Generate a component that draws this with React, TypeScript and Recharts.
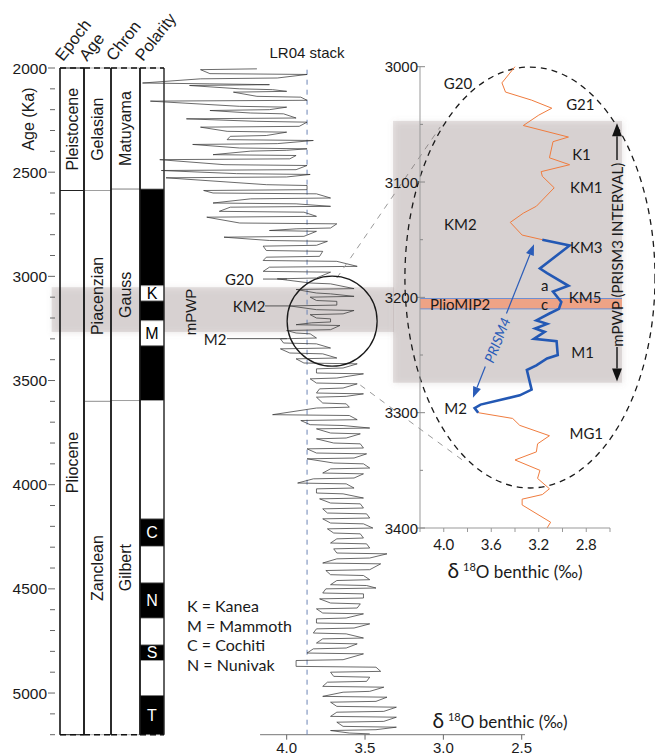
import React from 'react';
import {
  ComposedChart,
  Line,
  XAxis,
  YAxis,
  ReferenceArea,
  ReferenceLine,
  ReferenceDot,
} from 'recharts';

const ARIAL = '"Liberation Sans", Arial, Helvetica, sans-serif';
const MYRIAD = 'Lato, "Open Sans", sans-serif';

const W = 655;
const H = 756;

// ---------- stratigraphy (ka) ----------
const AGE_DOMAIN: [number, number] = [2000, 5200];
const AGE_LABELS = [2000, 2500, 3000, 3500, 4000, 4500, 5000];
const AGE_TICKS = Array.from({ length: 33 }, (_, i) => 2000 + i * 100);

const EPOCHS = [
  { name: 'Pleistocene', from: 2000, to: 2588 },
  { name: 'Pliocene', from: 2588, to: 5333 },
];
const STAGES = [
  { name: 'Gelasian', from: 2000, to: 2588 },
  { name: 'Piacenzian', from: 2588, to: 3600 },
  { name: 'Zanclean', from: 3600, to: 5333 },
];
const CHRONS = [
  { name: 'Matuyama', from: 2000, to: 2581 },
  { name: 'Gauss', from: 2581, to: 3596 },
  { name: 'Gilbert', from: 3596, to: 5333 },
];
const POLARITY = [
  { from: 2000, to: 2581, normal: false, label: '' },
  { from: 2581, to: 3045, normal: true, label: '' },
  { from: 3045, to: 3118, normal: false, label: 'K' },
  { from: 3118, to: 3213, normal: true, label: '' },
  { from: 3213, to: 3333, normal: false, label: 'M' },
  { from: 3333, to: 3596, normal: true, label: '' },
  { from: 3596, to: 4164, normal: false, label: '' },
  { from: 4164, to: 4296, normal: true, label: 'C' },
  { from: 4296, to: 4471, normal: false, label: '' },
  { from: 4471, to: 4641, normal: true, label: 'N' },
  { from: 4641, to: 4769, normal: false, label: '' },
  { from: 4769, to: 4844, normal: true, label: 'S' },
  { from: 4844, to: 5012, normal: false, label: '' },
  { from: 5012, to: 5333, normal: true, label: 'T' },
];
const SUBCHRON_KEY = ['K = Kanea', 'M = Mammoth', 'C = Cochiti', 'N = Nunivak'];

// ---------- LR04 stack, [age ka, d18O permil] ----------
const LR04_STACK: [number, number][] = [
  [2004, 4.19], [2008, 4.55], [2027, 4.49], [2031, 3.87], [2048, 4.06], [2052, 4.55],
  [2072, 4.92], [2076, 4.49], [2080, 4.11], [2084, 4.62], [2100, 4.3], [2104, 4.09],
  [2112, 4.0], [2116, 4.34], [2136, 4.19], [2140, 3.91], [2155, 3.87], [2159, 4.87],
  [2184, 4.3], [2188, 4.0], [2200, 4.11], [2204, 4.49], [2216, 4.23], [2220, 4.02],
  [2240, 3.94], [2244, 4.64], [2256, 4.19], [2260, 3.87], [2280, 3.92], [2284, 4.55],
  [2304, 4.38], [2308, 4.0], [2324, 4.13], [2328, 4.36], [2344, 4.38], [2348, 3.83],
  [2363, 4.06], [2367, 4.6], [2384, 4.3], [2388, 3.87], [2395, 4.0], [2399, 4.23],
  [2416, 4.47], [2420, 3.94], [2436, 3.98], [2440, 4.81], [2464, 4.4], [2468, 3.87],
  [2488, 3.94], [2492, 4.8], [2507, 4.32], [2511, 3.85], [2523, 4.0], [2527, 4.77],
  [2560, 4.13], [2564, 3.87], [2584, 3.87], [2588, 4.53], [2600, 4.47], [2604, 3.81],
  [2624, 3.72], [2628, 4.23], [2648, 4.47], [2652, 3.94], [2664, 3.72], [2668, 4.36],
  [2688, 4.43], [2692, 3.89], [2712, 3.81], [2716, 4.51], [2744, 4.3], [2748, 3.68],
  [2768, 3.72], [2772, 3.94], [2780, 4.11], [2784, 3.81], [2808, 3.89], [2812, 4.4],
  [2828, 4.11], [2832, 3.74], [2851, 3.81], [2855, 4.15], [2876, 4.13], [2880, 3.77],
  [2904, 3.79], [2908, 4.13], [2924, 4.15], [2928, 3.68], [2952, 3.55], [2956, 4.11],
  [2976, 4.15], [2980, 3.72], [3008, 3.81], [3012, 4.06], [3032, 3.85], [3036, 3.72],
  [3059, 3.57], [3063, 3.94], [3080, 3.81], [3084, 3.72], [3096, 3.57], [3100, 3.85],
  [3116, 3.81], [3120, 3.68], [3138, 3.68], [3142, 3.98], [3160, 3.81], [3164, 3.57],
  [3180, 3.64], [3184, 3.85], [3200, 3.81], [3204, 3.72], [3219, 3.72], [3223, 3.84],
  [3232, 3.94], [3236, 3.66], [3256, 3.72], [3260, 4.0], [3272, 3.94], [3276, 3.85],
  [3296, 3.81], [3300, 4.04], [3320, 4.02], [3324, 3.81], [3344, 3.72], [3348, 4.04],
  [3368, 3.98], [3372, 3.77], [3392, 3.68], [3396, 3.94], [3416, 3.89], [3420, 3.55],
  [3440, 3.64], [3444, 3.81], [3464, 3.81], [3468, 3.51], [3488, 3.68], [3492, 3.85],
  [3512, 3.81], [3516, 3.55], [3536, 3.64], [3540, 3.79], [3560, 3.81], [3564, 3.51],
  [3576, 3.62], [3580, 3.81], [3608, 3.77], [3612, 3.62], [3628, 3.6], [3632, 3.81],
  [3664, 4.09], [3668, 3.6], [3688, 3.55], [3692, 3.91], [3712, 3.85], [3716, 3.64],
  [3728, 3.47], [3732, 3.81], [3752, 3.72], [3756, 3.53], [3776, 3.62], [3780, 3.81],
  [3800, 3.7], [3804, 3.53], [3824, 3.51], [3828, 3.87], [3848, 3.81], [3852, 3.49],
  [3872, 3.57], [3876, 3.87], [3896, 3.7], [3900, 3.51], [3920, 3.47], [3924, 3.72],
  [3944, 3.77], [3948, 3.51], [3968, 3.57], [3972, 3.83], [3992, 3.93], [3996, 3.62],
  [4016, 3.57], [4020, 3.81], [4040, 3.81], [4044, 3.64], [4064, 3.51], [4068, 3.79],
  [4088, 3.72], [4092, 3.53], [4112, 3.51], [4116, 3.77], [4136, 3.74], [4140, 3.49],
  [4160, 3.47], [4164, 3.77], [4184, 3.72], [4188, 3.51], [4208, 3.45], [4212, 3.74],
  [4232, 3.7], [4236, 3.53], [4256, 3.51], [4260, 3.68], [4280, 3.72], [4284, 3.49],
  [4304, 3.47], [4308, 3.7], [4328, 3.68], [4332, 3.36], [4352, 3.47], [4356, 3.68],
  [4376, 3.77], [4380, 3.4], [4408, 3.47], [4412, 3.75], [4432, 3.72], [4436, 3.51],
  [4456, 3.47], [4460, 3.68], [4480, 3.72], [4484, 3.49], [4496, 3.43], [4500, 3.75],
  [4520, 3.77], [4524, 3.51], [4544, 3.51], [4548, 3.79], [4568, 3.72], [4572, 3.53],
  [4592, 3.55], [4596, 3.81], [4616, 3.77], [4620, 3.51], [4640, 3.62], [4644, 3.81],
  [4664, 3.81], [4668, 3.47], [4688, 3.57], [4692, 3.81], [4712, 3.83], [4716, 3.62],
  [4736, 3.51], [4740, 3.77], [4760, 3.81], [4764, 3.55], [4784, 3.62], [4788, 3.83],
  [4808, 3.87], [4812, 3.51], [4840, 3.64], [4844, 3.94], [4872, 3.94], [4876, 3.43],
  [4896, 3.4], [4900, 3.72], [4920, 3.7], [4924, 3.47], [4944, 3.49], [4948, 3.74],
  [4968, 3.77], [4972, 3.38], [4992, 3.47], [4996, 3.64], [5016, 3.77], [5020, 3.36],
  [5040, 3.43], [5044, 3.72], [5064, 3.68], [5068, 3.3], [5088, 3.38], [5092, 3.68],
  [5112, 3.72], [5116, 3.3], [5136, 3.38], [5140, 3.68], [5160, 3.64], [5164, 3.3],
  [5176, 3.43], [5180, 3.72], [5192, 3.6], [5196, 3.47],
];
const LR04_REF = 3.87;
const LR04_EVENTS: [string, number][] = [['G20', 3013], ['KM2', 3142], ['M2', 3299]];
const MPWP_MAIN: [number, number] = [3052, 3267];

// ---------- inset: zoom on 3000-3400 ka ----------
const INSET_D18O: [number, number][] = [
  [3000, 3.4], [3014, 3.51], [3022, 3.48], [3029, 3.26], [3036, 3.09], [3042, 3.2],
  [3051, 3.33], [3061, 2.95], [3065, 3.08], [3079, 3.11], [3085, 2.94], [3091, 3.18],
  [3095, 3.17], [3105, 3.07], [3121, 3.22], [3127, 3.33], [3135, 3.44], [3146, 3.34],
  [3150, 3.17], [3155, 2.94], [3175, 3.19], [3179, 3.13], [3190, 2.95], [3195, 3.08],
  [3204, 3.01], [3210, 3.03], [3214, 3.11], [3220, 3.22], [3223, 3.13], [3227, 3.23],
  [3230, 3.15], [3236, 3.24], [3238, 3.05], [3250, 3.04], [3253, 3.13], [3259, 3.22],
  [3263, 3.3], [3280, 3.26], [3285, 3.36], [3293, 3.69], [3296, 3.74], [3300, 3.71],
  [3305, 3.42], [3311, 3.36], [3320, 3.11], [3327, 3.21], [3334, 3.22], [3341, 3.4],
  [3350, 3.19], [3357, 3.21], [3366, 3.11], [3371, 3.17], [3375, 3.34], [3380, 3.34],
  [3395, 3.1], [3400, 3.13],
];
const PRISM4_RANGE: [number, number] = [3150, 3300];
const PRISM3_RANGE: [number, number] = [3047, 3274];
const PLIOMIP2_RANGE: [number, number] = [3201, 3210];
const INSET_EVENTS: [string, number][] = [
  ['G20', 3014], ['G21', 3032], ['K1', 3076], ['KM1', 3104], ['KM2', 3136], ['KM3', 3156],
  ['a', 3189], ['KM5', 3200], ['c', 3206], ['M1', 3247], ['M2', 3296], ['MG1', 3318],
];

// ---------- layout (not data) ----------
const COLS = { epoch: [0, 24], stage: [24, 51], chron: [51, 80], polarity: [80, 104] };
const MAIN_X: [number, number] = [2.479, 5.0];
const INSET_X: [number, number] = [2.6, 4.2];
const INSET_AGE: [number, number] = [3000, 3400];
const LR04_LABEL_X: Record<string, number> = { G20: 4.303, KM2: 4.24, M2: 4.457 };
const LR04_LEADER: Record<string, [number, number]> = { G20: [4.151, 3.998], KM2: [4.138, 3.979], M2: [4.381, 3.998] };
const INSET_LABEL_X: Record<string, number> = {
  G20: 3.88, G21: 2.85, K1: 2.84, KM1: 2.8, KM2: 3.86, KM3: 2.8,
  a: 3.15, KM5: 2.81, c: 3.15, M1: 2.83, M2: 3.9, MG1: 2.8,
};
const BAND_FILL = '#857070';
const BAND_OPACITY = 0.22;

// ---------- helpers ----------
const textShape = (o: {
  text: React.ReactNode; size?: number; family?: string; anchor?: 'start' | 'middle' | 'end';
  rotate?: number; fill?: string; italic?: boolean;
}) => (p: any) => (
  <text
    x={p.cx}
    y={p.cy}
    textAnchor={o.anchor ?? 'middle'}
    dominantBaseline="central"
    fontSize={o.size ?? 15}
    fontFamily={o.family ?? MYRIAD}
    fill={o.fill ?? '#1a1a1a'}
    fontStyle={o.italic ? 'italic' : undefined}
    transform={o.rotate ? `rotate(${o.rotate} ${p.cx} ${p.cy})` : undefined}
  >
    {o.text}
  </text>
);

// translucent box with a soft blurred rim
const softBox = (id: string) => (p: any) => {
  const x = Math.min(p.x, p.x + p.width);
  const y = Math.min(p.y, p.y + p.height);
  const w = Math.abs(p.width);
  const h = Math.abs(p.height);
  return (
    <g>
      <defs>
        <filter id={id} x="-10%" y="-30%" width="120%" height="160%">
          <feGaussianBlur stdDeviation="3" />
        </filter>
      </defs>
      <rect x={x + 1} y={y + 1} width={w} height={h} fill={BAND_FILL} fillOpacity={0.16} filter={`url(#${id})`} />
      <rect x={x} y={y} width={w} height={h} fill={BAND_FILL} fillOpacity={BAND_OPACITY - 0.03} />
    </g>
  );
};

const DeltaLabel = ({ x, y, anchor = 'start' }: { x: number; y: number; anchor?: string }) => (
  <text x={x} y={y} textAnchor={anchor} fontFamily={MYRIAD} fontSize={17} fill="#1a1a1a">
    <tspan fontSize={21}>δ</tspan>
    <tspan dx={4} dy={-7} fontSize={11}>18</tspan>
    <tspan dy={7}>O benthic (‰)</tspan>
  </text>
);

const arrowShape = (color: string, width: number, head: number) => (p: any) => {
  const { x1, y1, x2, y2 } = p;
  const a = Math.atan2(y2 - y1, x2 - x1);
  const hx = x2 - head * Math.cos(a);
  const hy = y2 - head * Math.sin(a);
  const w = head * 0.38;
  const pts = `${x2},${y2} ${hx - w * Math.sin(a)},${hy + w * Math.cos(a)} ${hx + w * Math.sin(a)},${hy - w * Math.cos(a)}`;
  return (
    <g>
      <line x1={x1} y1={y1} x2={hx} y2={hy} stroke={color} strokeWidth={width} />
      <polygon points={pts} fill={color} />
    </g>
  );
};

const AgeTick = (p: any) => {
  const { x, y, payload } = p;
  const major = AGE_LABELS.includes(payload.value);
  return (
    <g>
      <line x1={x - 5 - (major ? 7 : 5)} x2={x - 5} y1={y} y2={y} stroke="#666" strokeWidth={1} />
      {major && (
        <text x={x - 13} y={y} textAnchor="end" dominantBaseline="central" fontSize={15.5} fontFamily={ARIAL} fill="#1a1a1a">
          {payload.value}
        </text>
      )}
    </g>
  );
};

const InsetAgeTick = (p: any) => {
  const { x, y, payload } = p;
  const major = payload.value % 100 === 0;
  return (
    <g>
      <line x1={major ? x - 3 : x} x2={x + (major ? 5 : 3)} y1={y} y2={y} stroke="#888" strokeWidth={1} />
      {major && (
        <text x={x - 2} y={y} textAnchor="end" dominantBaseline="central" fontSize={15} fontFamily={ARIAL} fill="#1a1a1a">
          {payload.value}
        </text>
      )}
    </g>
  );
};

const clampAge = (a: number) => Math.min(a, AGE_DOMAIN[1]);

// an x axis that only supplies a scale, drawing nothing
const silentX = (domain: [number, number], reversed = false) => (
  <XAxis
    type="number"
    domain={domain}
    allowDataOverflow
    reversed={reversed}
    height={0}
    tick={false}
    axisLine={false}
    tickLine={false}
  />
);

// ---------- layer A: mPWP band behind the columns ----------
const mainRows = LR04_STACK.map(([age, d18O]) => ({ age, d18O }));

function BandLayer() {
  return (
    <ComposedChart layout="vertical" width={W} height={H} data={mainRows} margin={{ top: 68, right: 130, left: 130, bottom: 21.3 }}>
      {silentX(MAIN_X, true)}
      <YAxis type="number" dataKey="age" domain={AGE_DOMAIN} allowDataOverflow hide />
      <ReferenceArea
        x1={5.5}
        x2={3.316}
        y1={MPWP_MAIN[0]}
        y2={MPWP_MAIN[1]}
        ifOverflow="visible"
        shape={softBox('bandBlur')}
      />
    </ComposedChart>
  );
}

// ---------- layer B: stratigraphic columns ----------
function cellArea(col: number[], from: number, to: number, key: string, opts: any) {
  return (
    <ReferenceArea
      key={key}
      x1={col[0]}
      x2={col[1]}
      y1={from}
      y2={clampAge(to)}
      ifOverflow="visible"
      {...opts}
    />
  );
}

function ColumnsLayer() {
  const headers: [string, number[]][] = [
    ['Epoch', COLS.epoch],
    ['Age', COLS.stage],
    ['Chron', COLS.chron],
    ['Polarity', COLS.polarity],
  ];
  const nameLabel = (name: string) => ({
    value: name,
    position: 'center',
    angle: -90,
    fontSize: 16,
    fontFamily: ARIAL,
    fill: '#1a1a1a',
  });
  return (
    <ComposedChart layout="vertical" width={W} height={H} data={POLARITY} margin={{ top: 68, right: W - 164, left: 0, bottom: 21.3 }}>
      {silentX([0, 104])}
      <YAxis
        type="number"
        dataKey="from"
        domain={AGE_DOMAIN}
        allowDataOverflow
        ticks={AGE_TICKS}
        interval={0}
        width={60}
        axisLine={false}
        tickLine={false}
        tickSize={0}
        tickMargin={0}
        tick={(p: any) => <AgeTick {...p} />}
        label={{
          value: 'Age (Ka)',
          content: (p: any) => {
            const vb = p.viewBox || { x: 0, y: 68 };
            const cx = vb.x + 28;
            const cy = vb.y + 51;
            return (
              <text x={cx} y={cy} transform={`rotate(-90 ${cx} ${cy})`} textAnchor="middle" dominantBaseline="central" fontSize={16} fontFamily={ARIAL} fill="#1a1a1a">
                Age (Ka)
              </text>
            );
          },
        }}
      />
      {EPOCHS.map((c) => cellArea(COLS.epoch, c.from, c.to, 'e' + c.name, { fill: 'none', stroke: '#222', strokeWidth: 1, label: nameLabel(c.name) }))}
      {STAGES.map((c) => cellArea(COLS.stage, c.from, c.to, 's' + c.name, { fill: 'none', stroke: '#999', strokeWidth: 0.8, label: nameLabel(c.name) }))}
      {CHRONS.map((c) => cellArea(COLS.chron, c.from, c.to, 'c' + c.name, { fill: 'none', stroke: '#999', strokeWidth: 0.8, label: nameLabel(c.name) }))}
      {POLARITY.map((c, i) =>
        cellArea(COLS.polarity, c.from, c.to, 'p' + i, {
          fill: c.normal ? '#000' : '#fff',
          fillOpacity: 1,
          stroke: '#888',
          strokeWidth: 0.6,
          label: c.label
            ? { value: c.label, position: 'center', fontSize: 16, fontFamily: ARIAL, fill: c.normal ? '#fff' : '#000' }
            : undefined,
        })
      )}
      {headers.map(([name, col]) => (
        <ReferenceArea
          key={'frame' + name}
          x1={col[0]}
          x2={col[1]}
          y1={AGE_DOMAIN[0]}
          y2={AGE_DOMAIN[1]}
          ifOverflow="visible"
          shape={(p: any) => {
            const { x, y, width, height } = p;
            const tx = x + 3;
            const ty = y - 6;
            return (
              <g>
                <line x1={x} x2={x} y1={y} y2={y + height} stroke="#111" strokeWidth={1.2} />
                <line x1={x + width} x2={x + width} y1={y} y2={y + height} stroke="#111" strokeWidth={1.2} />
                <line x1={x} x2={x + width} y1={y} y2={y} stroke="#111" strokeWidth={1.6} strokeDasharray="6 4" />
                <line x1={x} x2={x + width} y1={y + height} y2={y + height} stroke="#111" strokeWidth={1.6} strokeDasharray="6 4" />
                <text x={tx} y={ty} transform={`rotate(-52 ${tx} ${ty})`} fontSize={16.5} fontFamily={ARIAL} fill="#1a1a1a">
                  {name}
                </text>
              </g>
            );
          }}
        />
      ))}
    </ComposedChart>
  );
}

// ---------- layer C: LR04 stack ----------
function MainLayer() {
  return (
    <ComposedChart layout="vertical" width={W} height={H} data={mainRows} margin={{ top: 68, right: 130, left: 130, bottom: 0 }}>
      <XAxis
        type="number"
        domain={MAIN_X}
        reversed
        ticks={[4.0, 3.5, 3.0, 2.5]}
        interval={0}
        height={21.3}
        axisLine={false}
        tickLine={{ stroke: '#666' }}
        tickSize={5}
        tickMargin={3}
        tickFormatter={(v: number) => v.toFixed(1)}
        tick={{ fontSize: 15, fontFamily: ARIAL, fill: '#1a1a1a' }}
      />
      <YAxis type="number" dataKey="age" domain={AGE_DOMAIN} hide />
      <ReferenceLine
        segment={[{ x: 4.17, y: AGE_DOMAIN[1] }, { x: MAIN_X[0], y: AGE_DOMAIN[1] }]}
        stroke="#777"
        strokeWidth={1}
        ifOverflow="visible"
      />
      <ReferenceLine
        x={LR04_REF}
        stroke="#6a84b6"
        strokeWidth={1}
        strokeDasharray="5 5"
        ifOverflow="visible"
        label={{ value: 'LR04 stack', position: 'top', offset: 10, fontSize: 15, fontFamily: ARIAL, fill: '#1a1a1a' }}
      />
      <Line dataKey="d18O" stroke="#3a3a3a" strokeWidth={0.75} dot={false} isAnimationActive={false} />
      <ReferenceDot x={3.71} y={3215} r={45} fill="none" stroke="#1a1a1a" strokeWidth={1.3} ifOverflow="visible" />
      <ReferenceLine segment={[{ x: 3.68, y: 3008 }, { x: 3.02, y: 2283 }]} stroke="#9a9a9a" strokeDasharray="6 6" ifOverflow="visible" />
      <ReferenceLine segment={[{ x: 3.53, y: 3522 }, { x: 2.86, y: 3892 }]} stroke="#9a9a9a" strokeDasharray="6 6" ifOverflow="visible" />
      {LR04_EVENTS.map(([name, age]) => (
        <React.Fragment key={name}>
          <ReferenceLine
            segment={[{ x: LR04_LEADER[name][0], y: age }, { x: LR04_LEADER[name][1], y: age }]}
            stroke="#333"
            strokeWidth={0.8}
            ifOverflow="visible"
          />
          <ReferenceDot x={LR04_LABEL_X[name]} y={age} r={1} ifOverflow="visible" shape={textShape({ text: name, size: 15 })} />
        </React.Fragment>
      ))}
      <ReferenceDot x={4.617} y={3171} r={1} ifOverflow="visible" shape={textShape({ text: 'mPWP', size: 15, family: ARIAL, rotate: -90 })} />
      <ReferenceDot
        x={3.07}
        y={5140}
        r={1}
        ifOverflow="visible"
        shape={(p: any) => <DeltaLabel x={p.cx} y={p.cy + 6} />}
      />
    </ComposedChart>
  );
}

// ---------- layer D: inset ----------
const insetRows = INSET_D18O.map(([age, v]) => ({
  age,
  all: v,
  prism: age >= PRISM4_RANGE[0] && age <= PRISM4_RANGE[1] ? v : null,
}));
const INSET_TICKS_X = [4.2, 4.0, 3.8, 3.6, 3.4, 3.2, 3.0, 2.8, 2.6];
const INSET_LABELS_X = [4.0, 3.6, 3.2, 2.8];
const INSET_TICKS_Y = Array.from({ length: 9 }, (_, i) => 3000 + i * 50);

function InsetLayer() {
  return (
    <ComposedChart layout="vertical" width={W} height={H} data={insetRows} margin={{ top: 66.7, right: 45, left: 360, bottom: 198 }}>
      <XAxis
        xAxisId="top"
        orientation="top"
        type="number"
        domain={INSET_X}
        reversed
        ticks={INSET_TICKS_X}
        interval={0}
        height={0}
        tick={false}
        tickSize={5}
        axisLine={{ stroke: '#999' }}
        tickLine={{ stroke: '#999' }}
      />
      <XAxis
        type="number"
        domain={INSET_X}
        reversed
        ticks={INSET_TICKS_X}
        interval={0}
        height={30}
        tickSize={4}
        tickMargin={7}
        axisLine={{ stroke: '#999' }}
        tickLine={{ stroke: '#999' }}
        tick={(p: any) =>
          INSET_LABELS_X.some((v) => Math.abs(v - p.payload.value) < 1e-6) ? (
            <text x={p.x} y={p.y} dy="0.71em" textAnchor="middle" fontSize={15} fontFamily={MYRIAD} fill="#1a1a1a">
              {p.payload.value.toFixed(1)}
            </text>
          ) : (
            <g />
          )
        }
        label={{
          value: 'd18O',
          content: (p: any) => {
            const vb = p.viewBox || { x: 420, y: 528, width: 190 };
            return <DeltaLabel x={vb.x + vb.width / 2} y={vb.y + 50} anchor="middle" />;
          },
        }}
      />
      <YAxis
        type="number"
        dataKey="age"
        domain={INSET_AGE}
        ticks={INSET_TICKS_Y}
        interval={0}
        width={60}
        axisLine={{ stroke: '#999' }}
        tickLine={false}
        tickSize={0}
        tickMargin={0}
        tick={(p: any) => <InsetAgeTick {...p} />}
      />
      <ReferenceArea
        x1={4.427}
        x2={2.499}
        y1={PRISM3_RANGE[0]}
        y2={PRISM3_RANGE[1]}
        ifOverflow="visible"
        shape={softBox('boxBlur')}
      />
      <ReferenceArea
        x1={INSET_X[1]}
        x2={2.499}
        y1={PLIOMIP2_RANGE[0]}
        y2={PLIOMIP2_RANGE[1]}
        ifOverflow="visible"
        shape={(p: any) => (
          <g>
            <rect x={p.x} y={p.y} width={p.width} height={p.height} fill="#eea386" />
            <line x1={p.x} x2={p.x + p.width} y1={p.y} y2={p.y} stroke="#6f8fd0" strokeWidth={1} />
            <line x1={p.x} x2={p.x + p.width} y1={p.y + p.height} y2={p.y + p.height} stroke="#6f8fd0" strokeWidth={1} />
          </g>
        )}
      />
      <ReferenceDot x={4.116} y={3205.5} r={1} ifOverflow="visible" shape={textShape({ text: 'PlioMIP2', size: 15, anchor: 'start' })} />
      <Line dataKey="all" stroke="#f07c3e" strokeWidth={1} dot={false} isAnimationActive={false} />
      <Line dataKey="prism" stroke="#2358b4" strokeWidth={2.6} dot={false} connectNulls={false} isAnimationActive={false} />
      <ReferenceArea
        x1={4.327}
        x2={2.221}
        y1={3000.3}
        y2={3365.3}
        ifOverflow="visible"
        shape={(p: any) => (
          <ellipse
            cx={p.x + p.width / 2}
            cy={p.y + p.height / 2}
            rx={Math.abs(p.width) / 2}
            ry={Math.abs(p.height) / 2}
            fill="none"
            stroke="#1a1a1a"
            strokeWidth={1.3}
            strokeDasharray="6 5"
          />
        )}
      />
      {INSET_EVENTS.map(([name, age]) => (
        <ReferenceDot key={name} x={INSET_LABEL_X[name]} y={age} r={1} ifOverflow="visible" shape={textShape({ text: name, size: 15 })} />
      ))}
      <ReferenceLine segment={[{ x: 3.65, y: 3260 }, { x: 3.754, y: 3287 }]} ifOverflow="visible" shape={arrowShape('#2a5cb8', 1.2, 11)} />
      <ReferenceLine segment={[{ x: 3.472, y: 3214 }, { x: 3.24, y: 3154 }]} ifOverflow="visible" shape={arrowShape('#2a5cb8', 1.2, 11)} />
      <ReferenceDot x={3.552} y={3237} r={1} ifOverflow="visible" shape={textShape({ text: 'PRISM4', size: 14, fill: '#2a5cb8', italic: true, rotate: -68 })} />
      <ReferenceLine segment={[{ x: 2.541, y: 3081 }, { x: 2.541, y: 3049 }]} ifOverflow="visible" shape={arrowShape('#111', 1.4, 13)} />
      <ReferenceLine segment={[{ x: 2.541, y: 3243 }, { x: 2.541, y: 3273 }]} ifOverflow="visible" shape={arrowShape('#111', 1.4, 13)} />
      <ReferenceDot x={2.541} y={3163} r={1} ifOverflow="visible" shape={textShape({ text: 'mPWP (PRISM3 INTERVAL)', size: 15, rotate: -90 })} />
    </ComposedChart>
  );
}

export default function App() {
  const layer: React.CSSProperties = { position: 'absolute', left: 0, top: 0 };
  return (
    <div style={{ position: 'relative', width: W, height: H, background: '#fff', overflow: 'hidden' }}>
      <style>{'body{margin:0;overflow:hidden;background:#fff}'}</style>
      <div style={layer}><BandLayer /></div>
      <div style={layer}><ColumnsLayer /></div>
      <div style={layer}><MainLayer /></div>
      <div style={layer}><InsetLayer /></div>
      <div style={{ position: 'absolute', left: 187, top: 596, fontFamily: MYRIAD, fontSize: 16, lineHeight: '19.7px', color: '#1a1a1a' }}>
        {SUBCHRON_KEY.map((t) => (
          <div key={t}>{t}</div>
        ))}
      </div>
    </div>
  );
}
